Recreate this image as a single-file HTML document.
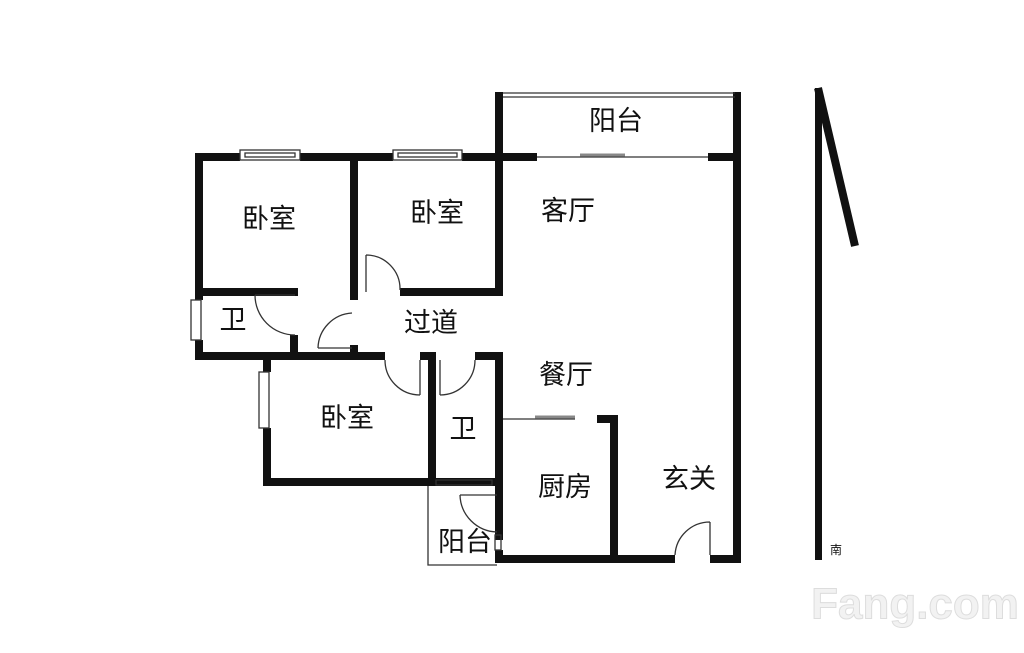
<!DOCTYPE html>
<html><head><meta charset="utf-8"><style>
html,body{margin:0;padding:0;background:#fff;width:1024px;height:653px;overflow:hidden}
text{font-family:"Liberation Sans","Noto Sans CJK SC",sans-serif;font-size:27px;fill:#111;text-anchor:middle;dominant-baseline:middle}
</style></head><body>
<svg width="1024" height="653" viewBox="0 0 1024 653" xmlns="http://www.w3.org/2000/svg">
<g fill="#111">
<rect x="495" y="92" width="8" height="68"/>
<rect x="733" y="92" width="8" height="471"/>
<rect x="195" y="153" width="45" height="8"/>
<rect x="300" y="153" width="93" height="8"/>
<rect x="462" y="153" width="75" height="8"/>
<rect x="708" y="153" width="33" height="8"/>
<rect x="195" y="153" width="8" height="147"/>
<rect x="195" y="288" width="103" height="8"/>
<rect x="195" y="340" width="8" height="20"/>
<rect x="290" y="335" width="8" height="25"/>
<rect x="195" y="352" width="160" height="8"/>
<rect x="350" y="153" width="8" height="147"/>
<rect x="350" y="288" width="8" height="12"/>
<rect x="400" y="288" width="103" height="8"/>
<rect x="495" y="153" width="8" height="143"/>
<rect x="350" y="345" width="8" height="15"/>
<rect x="263" y="352" width="122" height="8"/>
<rect x="263" y="352" width="8" height="20"/>
<rect x="263" y="428" width="8" height="58"/>
<rect x="263" y="478" width="240" height="8"/>
<rect x="428" y="352" width="8" height="134"/>
<rect x="420" y="352" width="16" height="8"/>
<rect x="475" y="352" width="28" height="8"/>
<rect x="495" y="352" width="8" height="188"/>
<rect x="495" y="550" width="8" height="13"/>
<rect x="495" y="415" width="8" height="8"/>
<rect x="597" y="415" width="21" height="8"/>
<rect x="610" y="415" width="8" height="148"/>
<rect x="495" y="555" width="180" height="8"/>
<rect x="710" y="555" width="31" height="8"/>
<rect x="815" y="88" width="7" height="472"/>
</g>
<line x1="818" y1="88" x2="855" y2="246" stroke="#111" stroke-width="8"/>
<g fill="none" stroke="#333" stroke-width="1.3">
<line x1="503" y1="93" x2="735" y2="93"/><line x1="503" y1="97" x2="735" y2="97"/>
<line x1="537" y1="157" x2="708" y2="157"/>
<line x1="580" y1="155" x2="625" y2="155" stroke="#888" stroke-width="3"/>
<rect x="240" y="150" width="60" height="10"/><rect x="245" y="153" width="50" height="4"/>
<rect x="393" y="150" width="69" height="10"/><rect x="398" y="153" width="59" height="4"/>
<rect x="191" y="300" width="10" height="40"/>
<rect x="259" y="372" width="10" height="56"/>
<line x1="503" y1="419" x2="575" y2="419"/>
<line x1="535" y1="417" x2="575" y2="417" stroke="#888" stroke-width="3"/>
<path d="M366 255 L366 292 M366 255 A34 34 0 0 1 400 290"/>
<path d="M255 295 L295 295 M255 295 A40 40 0 0 0 295 335"/>
<path d="M318 348 L352 348 M352 313 A36 36 0 0 0 318 348"/>
<path d="M420 360 L420 395 M385 360 A35 35 0 0 0 420 395"/>
<path d="M440 360 L440 395 M440 395 A35 35 0 0 0 475 360"/>
<path d="M460 495 L497 495 M460 495 A38 38 0 0 0 497 532"/>
<path d="M710 522 L710 555 M710 522 A35 35 0 0 0 675 555"/>
<rect x="495" y="535" width="6" height="15"/>
<rect x="436" y="480" width="56" height="5"/>
<path d="M428 486 L428 565 L497 565"/>
</g>
<text x="616" y="123">阳台</text>
<text x="269" y="221">卧室</text>
<text x="437" y="215">卧室</text>
<text x="568" y="213">客厅</text>
<text x="233" y="322">卫</text>
<text x="431" y="325">过道</text>
<text x="566" y="377">餐厅</text>
<text x="347" y="420">卧室</text>
<text x="463" y="431">卫</text>
<text x="565" y="489">厨房</text>
<text x="689" y="481">玄关</text>
<text x="465" y="544">阳台</text>
<text x="836" y="551" style="font-size:12px">南</text>
<text x="915" y="607" style="font-size:44px;font-weight:bold;fill:#f2f2f2;stroke:#ddd;stroke-width:1">Fang.com</text>
</svg>
</body></html>
